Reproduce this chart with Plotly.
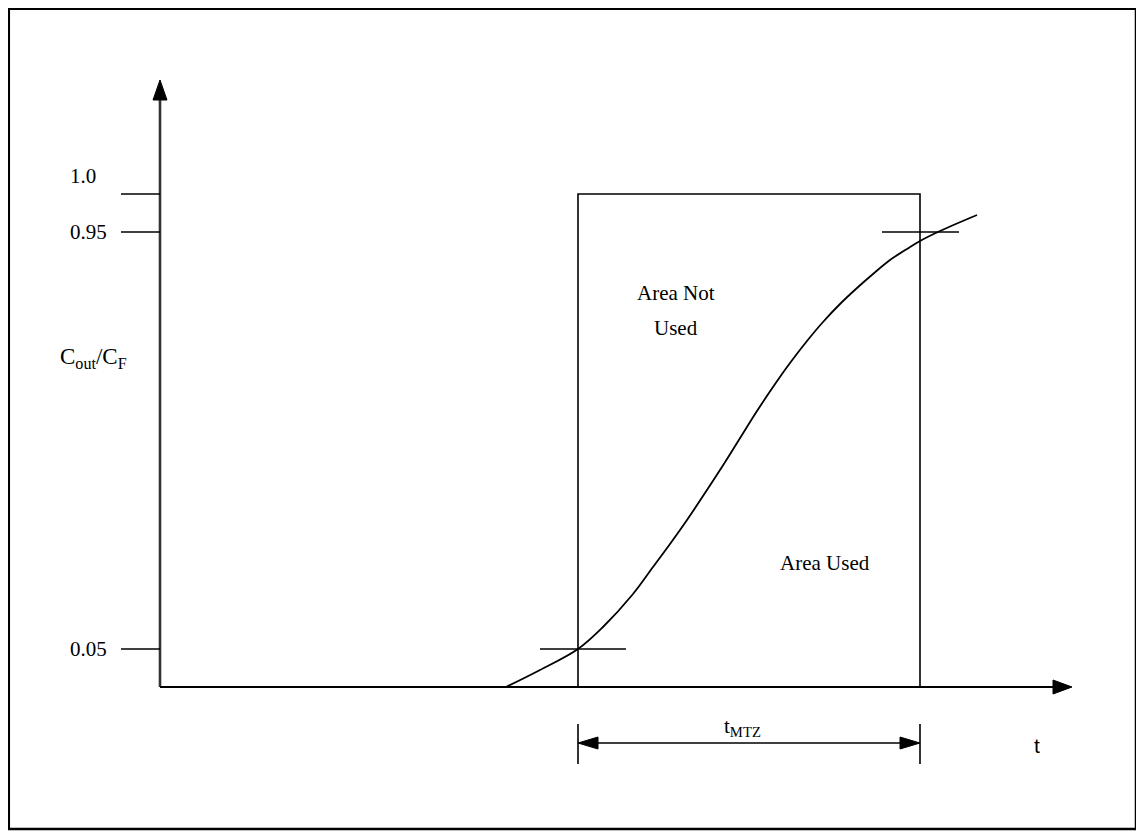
import plotly.graph_objects as go

# ---- data (schematic diagram units: t to the right, C up; origin at axes corner) ----
curve_t = [346, 380, 418, 443, 473, 493, 510, 527, 543, 560, 577, 597, 613, 630,
           647, 663, 680, 697, 713, 730, 747, 760, 780, 817]
curve_c = [0, 17, 38, 60, 93, 120, 143, 167, 191, 217, 244, 276, 300, 324,
           346, 365, 383, 399, 413, 427, 438, 446, 456, 472]

tick_labels = ["1.0", "0.95", "0.05"]
tick_levels = [493, 455, 38]          # schematic heights of the labelled levels
label_levels = [511, 455, 38]         # where the label text sits

zone_start, zone_end = 418, 760       # mass-transfer-zone window
zone_top = 493                        # C/CF = 1.0 level
mark_low = (380, 466, 38)             # 0.05 crossing marker
mark_high = (722, 799, 455)           # 0.95 crossing marker

axis_t_end = 912
axis_c_end = 607

BLACK = "#000000"
AXIS = "#333333"
FONT = "Liberation Serif, Times New Roman, serif"

fig = go.Figure()

def line(xs, ys, color=BLACK, width=1.6):
    fig.add_trace(go.Scatter(x=xs, y=ys, mode="lines", hoverinfo="skip",
                             line=dict(color=color, width=width), showlegend=False))

def tri(xs, ys, color=BLACK):
    fig.add_trace(go.Scatter(x=xs + [xs[0]], y=ys + [ys[0]], mode="lines", fill="toself",
                             fillcolor=color, line=dict(color=color, width=1),
                             hoverinfo="skip", showlegend=False))

# axes
line([0, 0], [0, axis_c_end - 20], AXIS, 2.6)
tri([-7, 7, 0], [axis_c_end - 20, axis_c_end - 20, axis_c_end], BLACK)
line([0, axis_t_end - 19], [0, 0], BLACK, 2.2)
tri([axis_t_end - 19, axis_t_end - 19, axis_t_end], [7, -7, 0], BLACK)

# level ticks
for lv in tick_levels:
    line([-39, 0], [lv, lv], BLACK, 1.6)

# rectangle (ideal step)
line([zone_start, zone_start, zone_end, zone_end], [0, zone_top, zone_top, 0], BLACK, 1.6)

# breakthrough curve
fig.add_trace(go.Scatter(x=curve_t, y=curve_c, mode="lines", hoverinfo="skip",
                         line=dict(color=BLACK, width=1.8, shape="spline", smoothing=1.0),
                         showlegend=False))

# crossing markers
line([mark_low[0], mark_low[1]], [mark_low[2], mark_low[2]], BLACK, 1.6)
line([mark_high[0], mark_high[1]], [mark_high[2], mark_high[2]], BLACK, 1.6)

# dimension line t_MTZ
dim_c = -56
line([zone_start, zone_start], [-37, -77], BLACK, 1.6)
line([zone_end, zone_end], [-37, -77], BLACK, 1.6)
line([zone_start + 20, zone_end - 20], [dim_c, dim_c], BLACK, 1.6)
tri([zone_start, zone_start + 20, zone_start + 20], [dim_c, dim_c + 6, dim_c - 6])
tri([zone_end, zone_end - 20, zone_end - 20], [dim_c, dim_c + 6, dim_c - 6])

# texts
ann = []
for lab, lv in zip(tick_labels, label_levels):
    ann.append(dict(x=-92, y=lv, text=lab, xanchor="left", yanchor="middle"))
ann.append(dict(x=-102, y=329, text="C<sub>out</sub>/C<sub>F</sub>", xanchor="left",
                yanchor="middle", font=dict(family=FONT, size=23, color=BLACK)))
ann.append(dict(x=516, y=394, text="Area Not", xanchor="center", yanchor="middle"))
ann.append(dict(x=516, y=359, text="Used", xanchor="center", yanchor="middle"))
ann.append(dict(x=665, y=124, text="Area Used", xanchor="center", yanchor="middle"))
ann.append(dict(x=582, y=-55, text="t<sub>MTZ</sub>", xanchor="center", yanchor="bottom"))
for a in ann:
    a.update(showarrow=False)
    a.setdefault("font", dict(family=FONT, size=21, color=BLACK))
ann.append(dict(x=877, y=-58, text="t", xanchor="center", yanchor="middle", showarrow=False,
                font=dict(family="Liberation Sans, Arial, sans-serif", size=21, color=BLACK)))

W, H = 1144, 836
fig.update_layout(
    width=W, height=H,
    margin=dict(l=0, r=0, t=0, b=0),
    paper_bgcolor="white", plot_bgcolor="white",
    xaxis=dict(range=[-152, 992], visible=False, fixedrange=True),
    yaxis=dict(range=[-157, 679], visible=False, fixedrange=True),
    annotations=ann,
    shapes=[dict(type="rect", xref="paper", yref="paper",
                 x0=0.8 / W, x1=1128 / W, y0=1 - 821 / H, y1=1 - 0.8 / H,
                 line=dict(color=BLACK, width=2.5), fillcolor="rgba(0,0,0,0)")],
)

fig.write_html("out.html")
